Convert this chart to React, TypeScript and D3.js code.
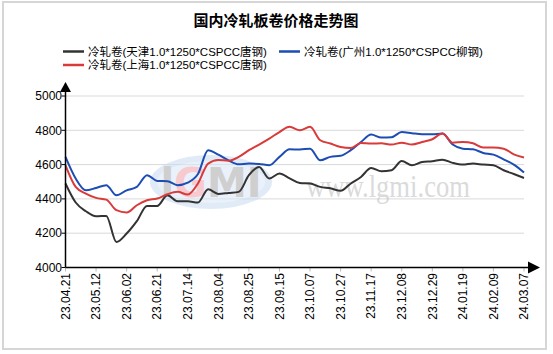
import * as d3 from "d3";

const dates = [
  "23.04.21", "23.05.12", "23.06.02", "23.06.21", "23.07.14", "23.08.04", "23.08.25", "23.09.15",
  "23.10.07", "23.10.27", "23.11.17", "23.12.08", "23.12.29", "24.01.19", "24.02.09", "24.03.07",
];

const yTicks = [4000, 4200, 4400, 4600, 4800, 5000];

// 天津 (black)
const tianjin = [
  4490, 4379, 4328, 4299, 4301, 4149, 4198, 4270, 4359, 4359, 4421, 4386,
  4386, 4379, 4456, 4429, 4435, 4441, 4538, 4586, 4519, 4548, 4520, 4493,
  4490, 4470, 4462, 4447, 4490, 4528, 4580, 4561, 4567, 4621, 4596, 4615,
  4620, 4629, 4610, 4600, 4606, 4600, 4596, 4567, 4545, 4522,
];

// 广州 (blue)
const guangzhou = [
  4645, 4519, 4450, 4464, 4480, 4421, 4450, 4470, 4538, 4505, 4503, 4480,
  4495, 4545, 4684, 4658, 4625, 4602, 4606, 4604, 4596, 4645, 4689, 4688,
  4693, 4625, 4645, 4651, 4684, 4732, 4775, 4758, 4760, 4790, 4783, 4777,
  4777, 4781, 4717, 4693, 4689, 4668, 4658, 4631, 4600, 4554,
];

// 上海 (red)
const shanghai = [
  4596, 4470, 4431, 4406, 4396, 4334, 4320, 4363, 4392, 4402, 4427, 4441,
  4425, 4490, 4606, 4627, 4623, 4645, 4684, 4717, 4752, 4790, 4820, 4800,
  4820, 4742, 4723, 4703, 4697, 4726, 4723, 4724, 4717, 4728, 4717, 4732,
  4748, 4781, 4728, 4732, 4724, 4699, 4699, 4693, 4660, 4641,
];

const seriesNames = [
  "冷轧卷(天津1.0*1250*CSPCC唐钢)",
  "冷轧卷(广州1.0*1250*CSPCC柳钢)",
  "冷轧卷(上海1.0*1250*CSPCC唐钢)",
];

const FONT = "'Liberation Sans', Arial, 'Noto Sans CJK SC', sans-serif";

export default function App() {
  const W = 553;
  const H = 354;
  const left = 65.5;
  const right = 524;
  const top = 96;
  const bottom = 267.5;

  const x = d3.scaleLinear().domain([0, tianjin.length - 1]).range([left, right]);
  const xLab = d3.scalePoint().domain(dates).range([left, right]);
  const y = d3.scaleLinear().domain([4000, 5000]).range([bottom, top]);

  const line = d3
    .line<number>()
    .x((_, i) => x(i))
    .y((d) => y(d))
    .curve(d3.curveMonotoneX);

  const series = [
    { name: seriesNames[0], data: tianjin, color: "#333333" },
    { name: seriesNames[1], data: guangzhou, color: "#1d4db3" },
    { name: seriesNames[2], data: shanghai, color: "#d93a3a" },
  ];

  const legendPos = [
    { lx: 63, ly: 51.5 },
    { lx: 279, ly: 51.5 },
    { lx: 63, ly: 65 },
  ];

  return (
    <svg
      width={W}
      height={H}
      style={{ position: "absolute", left: 0, top: 0, background: "#fff" }}
      fontFamily={FONT}
    >
      <rect x={3} y={2} width={543} height={347} fill="#fff" stroke="#d6d6d6" strokeWidth={2} />

      <text x={276} y={25.5} textAnchor="middle" fontSize={15} fontWeight="bold" fill="#000">
        国内冷轧板卷价格走势图
      </text>

      {series.map((s, i) => (
        <g key={s.name}>
          <line
            x1={legendPos[i].lx}
            x2={legendPos[i].lx + 21}
            y1={legendPos[i].ly}
            y2={legendPos[i].ly}
            stroke={s.color}
            strokeWidth={2.5}
          />
          <text x={legendPos[i].lx + 25} y={legendPos[i].ly + 4} fontSize={11.5} fill="#000">
            {s.name}
          </text>
        </g>
      ))}

      {/* grid */}
      {yTicks.map((t) => (
        <line key={t} x1={left} x2={right} y1={y(t)} y2={y(t)} stroke="#d9d9d9" strokeWidth={1} />
      ))}

      {/* watermark */}
      <g opacity={0.55}>
        <ellipse cx={211} cy={182} rx={61} ry={27} fill="#c7dcf1" />
        <ellipse cx={211} cy={182} rx={54} ry={21} fill="#d9e7f6" />
        <text x={211} y={197} textAnchor="middle" fontSize={40} fontWeight="bold" fill="#a8a8a8" fontFamily="'DejaVu Sans', sans-serif">
          l<tspan fill="#f0a0a8">G</tspan>MI
        </text>
        <text x={306} y={197} fontSize={31} textLength={164} lengthAdjust="spacingAndGlyphs" fill="#bdbdbd" fontFamily="'Liberation Serif', serif">
          www.lgmi.com
        </text>
      </g>

      {/* y axis */}
      {yTicks.map((t) => (
        <g key={"yt" + t}>
          <line x1={left - 4} x2={left} y1={y(t)} y2={y(t)} stroke="#000" />
          <text x={62} y={y(t)} dy="0.35em" textAnchor="end" fontSize={12} fill="#000">
            {t}
          </text>
        </g>
      ))}

      {/* x ticks and labels */}
      {dates.map((d) => (
        <g key={d}>
          <line x1={xLab(d)} x2={xLab(d)} y1={bottom} y2={bottom + 4} stroke="#bbb" />
          <text
            transform={`translate(${xLab(d)},273) rotate(-90)`}
            dy="0.35em"
            textAnchor="end"
            fontSize={12}
            fill="#000"
          >
            {d}
          </text>
        </g>
      ))}

      {/* series */}
      {series.map((s) => (
        <path key={"p" + s.name} d={line(s.data) || ""} fill="none" stroke={s.color} strokeWidth={2} />
      ))}

      {/* axes with arrows */}
      <line x1={left} x2={left} y1={92} y2={bottom} stroke="#000" strokeWidth={1.5} />
      <line x1={left} x2={529} y1={bottom} y2={bottom} stroke="#000" strokeWidth={1.5} />
      <path d={`M${left},82 L${left + 5.5},92 L${left - 5.5},92 Z`} fill="#000" />
      <path d={`M540,${bottom} L528,${bottom - 6} L528,${bottom + 6} Z`} fill="#000" />
    </svg>
  );
}
